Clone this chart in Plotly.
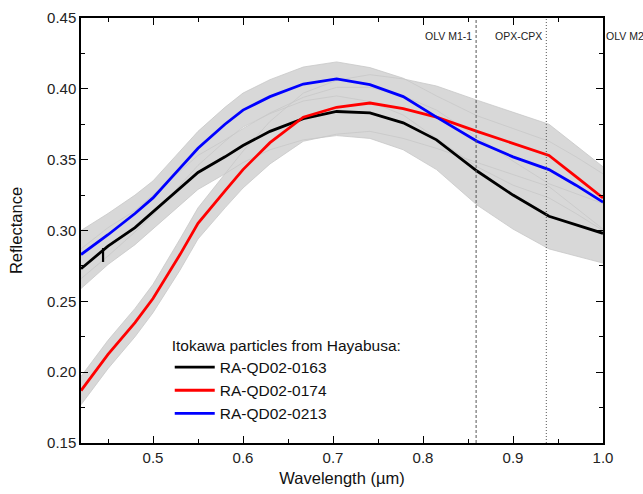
import plotly.graph_objects as go

# Wavelength grid (µm)
wavelength = [0.42, 0.45, 0.48, 0.50, 0.53, 0.55, 0.58, 0.60, 0.63, 0.667, 0.704,
              0.741, 0.778, 0.815, 0.86, 0.90, 0.94, 0.97, 1.00]

# Mean reflectance of each particle
r_0163 = [0.273, 0.289, 0.302, 0.313, 0.330, 0.341, 0.352, 0.360, 0.370, 0.379, 0.384,
          0.383, 0.376, 0.364, 0.342, 0.325, 0.310, 0.304, 0.298]
r_0174 = [0.187, 0.2125, 0.235, 0.252, 0.283, 0.305, 0.328, 0.343, 0.362, 0.380, 0.387,
          0.390, 0.386, 0.380, 0.370, 0.3615, 0.353, 0.338, 0.323]
r_0213 = [0.283, 0.297, 0.312, 0.323, 0.344, 0.358, 0.375, 0.385, 0.3945, 0.4034, 0.407,
          0.403, 0.3945, 0.380, 0.363, 0.352, 0.343, 0.332, 0.320]

# Spread (half-width of grey envelope)
err_0163 = [0.014, 0.013, 0.012, 0.012, 0.012, 0.012, 0.012, 0.012, 0.013, 0.015, 0.017,
            0.018, 0.019, 0.021, 0.024, 0.024, 0.023, 0.022, 0.021]
err_0174 = [0.010, 0.010, 0.010, 0.010, 0.011, 0.011, 0.012, 0.013, 0.015, 0.017, 0.019,
            0.020, 0.021, 0.022, 0.022, 0.022, 0.022, 0.022, 0.022]
err_0213 = [0.017, 0.015, 0.013, 0.012, 0.012, 0.012, 0.012, 0.012, 0.012, 0.012, 0.012,
            0.012, 0.013, 0.015, 0.018, 0.020, 0.020, 0.020, 0.020]

# Small instrument glitch on RA-QD02-0163
glitch_x = [0.4445, 0.4445]
glitch_y = [0.2876, 0.2778]

names = ["RA-QD02-0163", "RA-QD02-0174", "RA-QD02-0213"]
colors = ["#000000", "#ff0000", "#0000ff"]
series = [r_0163, r_0174, r_0213]
errors = [err_0163, err_0174, err_0213]

band_color = "rgb(216,216,216)"
edge_color = "rgb(200,200,200)"
font_family = "Liberation Sans, Arial, sans-serif"

fig = go.Figure()

# grey envelopes
for vals, err in zip(series, errors):
    upper = [v + e for v, e in zip(vals, err)]
    lower = [v - e for v, e in zip(vals, err)]
    fig.add_trace(go.Scatter(
        x=wavelength + wavelength[::-1],
        y=upper + lower[::-1],
        fill="toself", fillcolor=band_color,
        line=dict(width=0, color=band_color),
        mode="lines", hoverinfo="skip", showlegend=False))
# faint envelope edges (visible where envelopes overlap)
for vals, err in zip(series, errors):
    for sgn in (1, -1):
        fig.add_trace(go.Scatter(
            x=wavelength, y=[v + sgn * e for v, e in zip(vals, err)],
            mode="lines", line=dict(width=0.8, color=edge_color),
            hoverinfo="skip", showlegend=False))

# mean spectra
for vals, name, col in zip(series, names, colors):
    fig.add_trace(go.Scatter(x=wavelength, y=vals, mode="lines", name=name,
                             line=dict(color=col, width=2.8)))

fig.add_trace(go.Scatter(x=glitch_x, y=glitch_y, mode="lines", showlegend=False,
                         line=dict(color="#000000", width=2.2)))

band_lines = [0.859, 0.937]
band_labels = ["OLV M1-1", "OPX-CPX"]
dashes = ["3px,2px", "1px,2px"]
for xv, d in zip(band_lines, dashes):
    fig.add_shape(type="line", x0=xv, x1=xv, y0=0, y1=1, xref="x", yref="paper",
                  line=dict(color="#555555", width=1, dash=d))
for xv, lab in zip(band_lines, band_labels):
    fig.add_annotation(x=xv, y=0.958, xref="x", yref="paper", text=lab, showarrow=False,
                       xanchor="right", yanchor="middle", xshift=-2,
                       font=dict(size=10.5, color="#222222", family=font_family))
fig.add_annotation(x=1.0, y=0.958, xref="x", yref="paper", text="OLV M2", showarrow=False,
                   xanchor="left", yanchor="middle", xshift=1,
                   font=dict(size=10.5, color="#222222", family=font_family))

axis_common = dict(
    showline=True, linecolor="#000000", linewidth=1.5, mirror="ticks",
    ticks="inside", ticklen=7, tickwidth=1.2, tickcolor="#000000",
    showgrid=False, zeroline=False,
    tickfont=dict(size=15, color="#222222", family=font_family),
)

fig.update_xaxes(range=[0.42, 1.0], tick0=0.5, dtick=0.1, tickformat=".1f",
                 minor=dict(dtick=0.05, tick0=0.45, ticks="inside", ticklen=4,
                            tickcolor="#000000", tickwidth=1.2),
                 title=dict(text="Wavelength (µm)", standoff=8,
                            font=dict(size=16.5, color="#111111", family=font_family)),
                 **axis_common)
fig.update_yaxes(range=[0.15, 0.45], tick0=0.15, dtick=0.05, tickformat=".2f",
                 minor=dict(dtick=0.025, tick0=0.15, ticks="inside", ticklen=4,
                            tickcolor="#000000", tickwidth=1.2),
                 title=dict(text="Reflectance", standoff=20,
                            font=dict(size=16.5, color="#111111", family=font_family)),
                 **axis_common)

fig.update_layout(
    width=643, height=494,
    margin=dict(l=81, r=40, t=18, b=51, autoexpand=False),
    paper_bgcolor="white", plot_bgcolor="white",
    font=dict(family=font_family, color="#111111"),
    legend=dict(
        title=dict(text="Itokawa particles from Hayabusa:",
                   font=dict(size=15.5, color="#111111", family=font_family)),
        x=0.17, y=0.265, xanchor="left", yanchor="top",
        bgcolor="rgba(0,0,0,0)", borderwidth=0,
        font=dict(size=15.5, color="#111111", family=font_family),
        tracegroupgap=0, itemwidth=40,
    ),
    showlegend=True,
)

fig.write_html("out.html", config={"displayModeBar": False},
               post_script="document.body.style.margin='0';document.body.style.overflow='hidden';")
